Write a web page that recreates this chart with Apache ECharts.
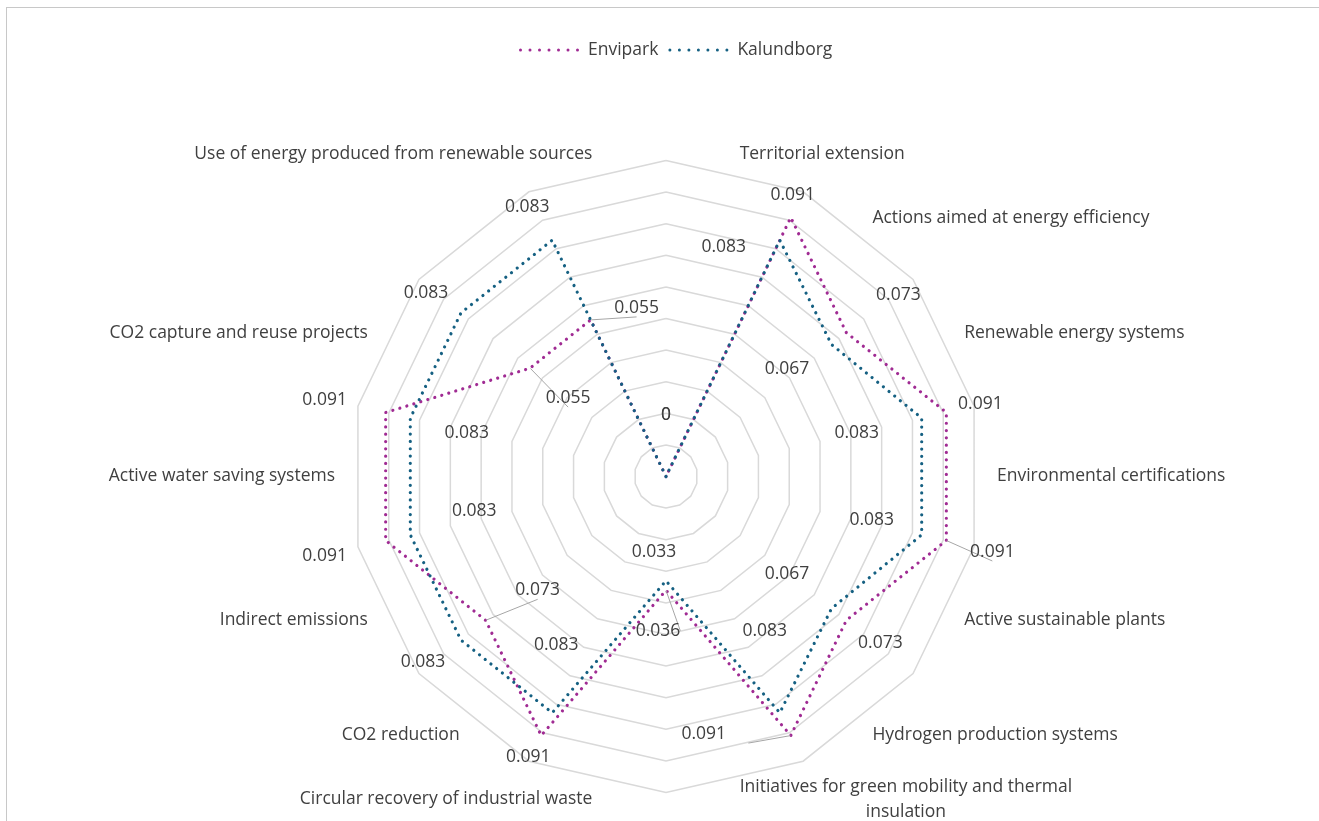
<!DOCTYPE html>
<html>
<head>
<meta charset="utf-8">
<script src="https://cdn.jsdelivr.net/npm/echarts@6/dist/echarts.min.js"></script>
<style>
html, body { margin: 0; padding: 0; background: #ffffff; }
#wrap { position: relative; width: 1319px; height: 821px; overflow: hidden; }
#chart { position: absolute; left: 0; top: 0; width: 1319px; height: 821px; }
#frame { position: absolute; left: 6px; top: 7px; width: 1330px; height: 830px;
  border-top: 1.5px solid #c8c8c8; border-left: 1.5px solid #c8c8c8; pointer-events: none; }
</style>
</head>
<body>
<div id="wrap"><div id="chart"></div><div id="frame"></div></div>
<script>
// ---------------- data ----------------
// category labels, clockwise, each sitting between two spokes of the grid
const categoryLabels = [
  'Territorial extension',
  'Actions aimed at energy efficiency',
  'Renewable energy systems',
  'Environmental certifications',
  'Active sustainable plants',
  'Hydrogen production systems',
  'Initiatives for green mobility and thermal insulation',
  'Circular recovery of industrial waste',
  'CO2 reduction',
  'Indirect emissions',
  'Active water saving systems',
  'CO2 capture and reuse projects',
  '',
  'Use of energy produced from renewable sources'
];
// values on the 14 spokes, clockwise from the top spoke
const envipark   = [0, 0.091, 0.073, 0.091, 0.091, 0.073, 0.091, 0.036, 0.091, 0.073, 0.091, 0.091, 0.055, 0.055];
const kalundborg = [0, 0.083, 0.067, 0.083, 0.083, 0.067, 0.083, 0.033, 0.083, 0.083, 0.083, 0.083, 0.083, 0.083];
const seriesNames = ['Envipark', 'Kalundborg'];
const axisMin = 0;
const axisMax = 0.1;
const ringCount = 10;

// ---------------- layout / style ----------------
const CENTER = [666, 476.5];
const RADIUS = 316;
const FONT = "'Open Sans', 'Noto Sans', sans-serif";
const TEXT = '#404040';
const FS = 17.5;
const COLORS = ['#A02B93', '#156082'];
// label offsets (px) of the data labels relative to their points
const envLabelOffsets = [[0,-61.5],[2,-22],[52,-38],[34,-8],[46,11.5],[34,22.5],[-87,-1.5],[-8,40.5],[-13,21],[52,-30],[-61,15.5],[-61,-12.5],[38,30],[46,-12]];
const kalLabelOffsets = [[0,-61.5],[-56,6.5],[-44.5,24.5],[-65,15],[-50,-15],[-44.5,-34.5],[-15,-82],[-12,-29],[4,-68],[-38,21.5],[64,-24],[56.5,15],[-35,-20],[-25,-33.5]];
const envLeaders = [4, 6, 7, 9, 12, 13];
const kalLeaders = [];

const N = envipark.length;
// ECharts radar runs counter-clockwise; reorder so spokes run clockwise
const ccwOrder = [0];
for (let i = N - 1; i >= 1; i--) ccwOrder.push(i);

const dotDash = [0.01, 7.3];

function dotsIcon(n, r, gap) {
  let d = '';
  for (let i = 0; i < n; i++) {
    const cx = r + i * gap;
    d += 'M' + (cx - r) + ',' + r + 'a' + r + ',' + r + ' 0 1,0 ' + (2 * r) + ',0' +
         'a' + r + ',' + r + ' 0 1,0 ' + (-2 * r) + ',0Z';
  }
  return 'path://' + d;
}
const legendIcon = dotsIcon(7, 1.5, 9.5);

function nameFormatter(name) {
  if (name.length > 50) {
    const cut = name.lastIndexOf(' ', 42);
    return '{c|' + name.slice(0, cut) + '}\n{c|' + name.slice(cut + 1) + '}';
  }
  return name;
}

function labelSeries(values, offsets, leaders, name) {
  return {
    type: 'scatter',
    name: name,
    coordinateSystem: 'polar',
    silent: true,
    symbol: 'circle',
    symbolSize: 1,
    itemStyle: { color: 'rgba(0,0,0,0)', opacity: 1 },
    z: 5,
    label: {
      show: true,
      position: 'inside',
      color: TEXT,
      opacity: 1,
      fontFamily: FONT,
      fontSize: FS,
      formatter: function (p) { return String(p.value[0]); }
    },
    labelLine: { show: false, lineStyle: { color: '#a6a6a6', width: 1 } },
    data: values.map(function (v, i) {
      return {
        value: [v, i],
        label: { offset: offsets[i] },
        labelLine: { show: leaders.indexOf(i) >= 0, lineStyle: { color: '#a6a6a6', width: 1, opacity: 1 } }
      };
    })
  };
}

const chart = echarts.init(document.getElementById('chart'), null, { renderer: 'canvas' });
const option = {
  animation: false,
  backgroundColor: 'transparent',
  legend: {
    top: 36,
    left: 514,
    itemGap: 10,
    itemWidth: 60,
    itemHeight: 3,
    selectedMode: false,
    textStyle: { color: TEXT, fontFamily: FONT, fontSize: FS, padding: [0, 0, 0, 4] },
    data: seriesNames.map(function (n, i) {
      return { name: n, icon: legendIcon, itemStyle: { color: COLORS[i] } };
    })
  },
  radar: [
    {
      center: CENTER,
      radius: RADIUS,
      startAngle: 90,
      splitNumber: ringCount,
      shape: 'polygon',
      indicator: ccwOrder.map(function (i) { return { name: 'spoke' + i, min: axisMin, max: axisMax }; }),
      axisName: { show: false },
      axisLine: { show: false },
      axisTick: { show: false },
      axisLabel: { show: false },
      splitArea: { show: false },
      splitLine: { show: true, lineStyle: { color: '#d9d9d9', width: 1.5 } }
    },
    {
      center: CENTER,
      radius: RADIUS,
      startAngle: 90 - 180 / N,
      splitNumber: ringCount,
      shape: 'polygon',
      nameGap: 15,
      indicator: ccwOrder.map(function (i) { return { name: categoryLabels[i], min: axisMin, max: axisMax }; }),
      axisName: {
        show: true,
        color: TEXT,
        fontFamily: FONT,
        fontSize: FS,
        formatter: nameFormatter,
        rich: { c: { align: 'center', color: TEXT, fontFamily: FONT, fontSize: FS, lineHeight: 25 } }
      },
      axisLine: { show: false },
      axisTick: { show: false },
      axisLabel: { show: false },
      splitArea: { show: false },
      splitLine: { show: false }
    }
  ],
  polar: { center: CENTER, radius: RADIUS },
  angleAxis: { type: 'value', min: 0, max: N, startAngle: 90, clockwise: true, show: false },
  radiusAxis: { type: 'value', min: axisMin, max: axisMax, show: false },
  series: [
    {
      type: 'radar',
      radarIndex: 0,
      silent: true,
      symbol: 'none',
      data: [
        {
          name: seriesNames[0],
          value: ccwOrder.map(function (i) { return envipark[i]; }),
          itemStyle: { color: COLORS[0] },
          lineStyle: { color: COLORS[0], width: 3.2, type: dotDash, cap: 'round' }
        },
        {
          name: seriesNames[1],
          value: ccwOrder.map(function (i) { return kalundborg[i]; }),
          itemStyle: { color: COLORS[1] },
          lineStyle: { color: COLORS[1], width: 3.2, type: dotDash, cap: 'round' }
        }
      ]
    },
    labelSeries(envipark, envLabelOffsets, envLeaders, 'Envipark labels'),
    labelSeries(kalundborg, kalLabelOffsets, kalLeaders, 'Kalundborg labels')
  ]
};
chart.setOption(option);
</script>
</body>
</html>
